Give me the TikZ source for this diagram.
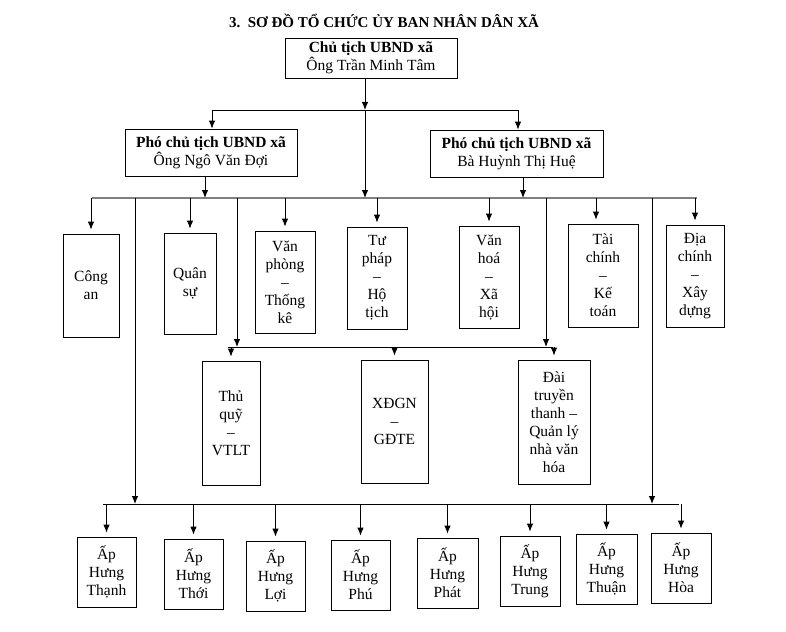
\documentclass[tikz,border=0pt]{standalone}
\usepackage{fontspec}
\setmainfont{Liberation Serif}
\usepackage{tikz}
\usetikzlibrary{arrows.meta}

\begin{document}
\begin{tikzpicture}[x=1pt,y=-1pt,
  box/.style={draw,rectangle,line width=0.8pt,align=center,inner sep=2pt,
              font=\fontsize{15.5}{18}\selectfont},
  boxsize/.style 2 args={minimum width=#1pt,minimum height=#2pt},
  arr/.style={-{Latex[length=8pt,width=6.5pt]},line width=0.9pt},
  arrb/.style={arr,shorten >=4pt},
  bus/.style={line width=0.9pt},
  mainbus/.style={line width=1.6pt,gray}
]
\useasboundingbox (0,0) rectangle (786,631);

%% Title
\node[font=\fontsize{15}{18}\selectfont\bfseries] (title) at (384,21)
  {3.\ \ SƠ ĐỒ TỔ CHỨC ỦY BAN NHÂN DÂN XÃ};

%% Leadership
\node[box,boxsize={172}{40}] (chu)  at (371,58)    {\textbf{Chủ tịch UBND xã}\\Ông Trần Minh Tâm};
\node[box,boxsize={172}{47}] (pho1) at (211,152.5) {\textbf{Phó chủ tịch UBND xã}\\Ông Ngô Văn Đợi};
\node[box,boxsize={173}{47}] (pho2) at (516.5,153.5) {\textbf{Phó chủ tịch UBND xã}\\Bà Huỳnh Thị Huệ};

%% Departments
\node[box,boxsize={56}{103}] (congan)   at (91,285.5)  {Công\\an};
\node[box,boxsize={52}{101}] (quansu)   at (190,283.5) {Quân\\sự};
\node[box,boxsize={60}{102}] (vanphong) at (285,282)   {Văn\\phòng\\–\\Thống\\kê};
\node[box,boxsize={60}{102}] (tuphap)   at (377,278)   {Tư\\pháp\\–\\Hộ\\tịch};
\node[box,boxsize={60}{102}] (vanhoa)   at (489,277)   {Văn\\hoá\\–\\Xã\\hội};
\node[box,boxsize={70}{103}] (taichinh) at (603,275.5) {Tài\\chính\\–\\Kế\\toán};
\node[box,boxsize={58}{102}] (diachinh) at (695,276)   {Địa\\chính\\–\\Xây\\dựng};

%% Second row
\node[box,boxsize={58}{124}] (thuquy) at (231,423)   {Thủ\\quỹ\\–\\VTLT};
\node[box,boxsize={67}{123}] (xdgn)   at (394.5,421.5) {XĐGN\\–\\GĐTE};
\node[box,boxsize={72}{124}] (daitt)  at (554,422)   {Đài\\truyền\\thanh –\\Quản lý\\nhà văn\\hóa};

%% Hamlets
\node[box,boxsize={59}{70}] (thanh) at (106.5,572) {Ấp\\Hưng\\Thạnh};
\node[box,boxsize={59}{70}] (thoi)  at (193.5,574) {Ấp\\Hưng\\Thới};
\node[box,boxsize={59}{70}] (loi)   at (275.5,576) {Ấp\\Hưng\\Lợi};
\node[box,boxsize={59}{70}] (phu)   at (360.5,575) {Ấp\\Hưng\\Phú};
\node[box,boxsize={61}{70}] (phat)  at (447.5,573) {Ấp\\Hưng\\Phát};
\node[box,boxsize={60}{70}] (trung) at (530,571)   {Ấp\\Hưng\\Trung};
\node[box,boxsize={61}{70}] (thuan) at (606.5,569) {Ấp\\Hưng\\Thuận};
\node[box,boxsize={60}{70}] (hoa)   at (681,568)   {Ấp\\Hưng\\Hòa};

%% Bus lines
\coordinate (b1w) at (212,110);  \coordinate (b1e) at (518,110);
\coordinate (b2w) at (92,198);   \coordinate (b2e) at (697,198);
\coordinate (b3w) at (228,347);  \coordinate (b3e) at (553,347);
\coordinate (b4w) at (103,504);  \coordinate (b4e) at (679,504);
\draw[bus] (b1w) -- (b1e);
\draw[mainbus] (b2w) -- (b2e);
\draw[bus] (b3w) -- (b3e);
\draw[bus] (b4w) -- (b4e);

%% Trunks between buses
\coordinate (t0) at (365,110);
\coordinate (v1) at (135,198);
\coordinate (v2) at (237,198);
\coordinate (v3) at (546,198);
\coordinate (v4) at (652,198);
\draw[arr] (chu.south -| t0) -- (t0);
\draw[arr] (t0) -- (t0 |- b2w);
\draw[arr] ([xshift=-6pt]pho1.south) -- ([xshift=-6pt]pho1.south |- b2w);
\draw[arr] ([xshift=6.5pt]pho2.south) -- ([xshift=6.5pt]pho2.south |- b2w);
\draw[arr] (v1) -- (v1 |- b4w);
\draw[arr] (v2) -- (v2 |- b3w);
\draw[arr] (v3) -- (v3 |- b3w);
\draw[arr] (v4) -- (v4 |- b4w);

%% Drops to boxes
\draw[arr] (b1w) -- (b1w |- pho1.north);
\draw[arr] (b1e) -- (b1e |- pho2.north);
\foreach \n in {congan,quansu,vanphong,tuphap,vanhoa,diachinh}
  \draw[arrb] (\n.north |- b2w) -- (\n.north);
\draw[arrb] ([xshift=-7pt]taichinh.north |- b2w) -- ([xshift=-7pt]taichinh.north);
\foreach \n in {thuquy,xdgn,daitt}
  \draw[arrb] (\n.north |- b3w) -- (\n.north);
\foreach \n in {thanh,thoi,loi,phu,phat,trung,thuan,hoa}
  \draw[arrb] (\n.north |- b4w) -- (\n.north);
\end{tikzpicture}
\end{document}
